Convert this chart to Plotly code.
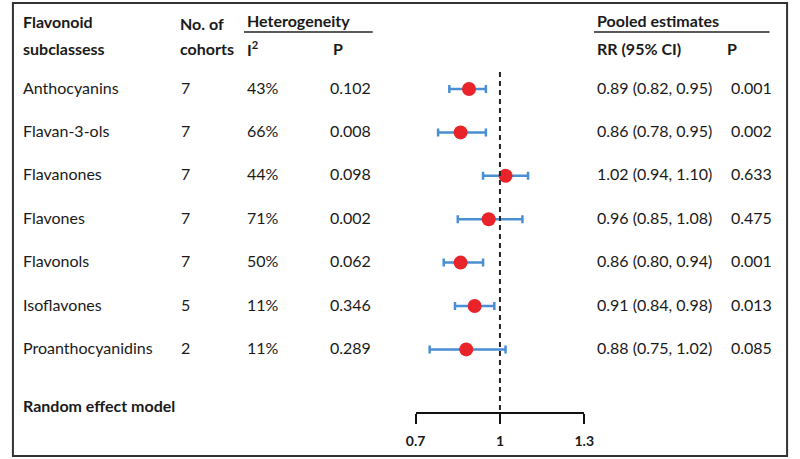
import plotly.graph_objects as go

# ---- data ----
subclasses = ["Anthocyanins", "Flavan-3-ols", "Flavanones", "Flavones",
              "Flavonols", "Isoflavones", "Proanthocyanidins"]
cohorts = [7, 7, 7, 7, 7, 5, 2]
i2 = ["43%", "66%", "44%", "71%", "50%", "11%", "11%"]
p_het = ["0.102", "0.008", "0.098", "0.002", "0.062", "0.346", "0.289"]
rr = [0.89, 0.86, 1.02, 0.96, 0.86, 0.91, 0.88]
rr_lo = [0.82, 0.78, 0.94, 0.85, 0.80, 0.84, 0.75]
rr_hi = [0.95, 0.95, 1.10, 1.08, 0.94, 0.98, 1.02]
p_pool = ["0.001", "0.002", "0.633", "0.475", "0.001", "0.013", "0.085"]
tick_vals = [0.7, 1, 1.3]
tick_text = ["0.7", "1", "1.3"]

W, H = 800, 459
FONT = "Lato"
TXT = "#1a1a1a"

def px(x):
    return x / W

def py(y):
    return 1 - y / H

rows = list(range(len(subclasses)))
ci_text = [f"{r:.2f} ({l:.2f}, {h:.2f})" for r, l, h in zip(rr, rr_lo, rr_hi)]

fig = go.Figure()
fig.add_trace(go.Scatter(
    x=rr, y=rows, mode="markers",
    marker=dict(color="#e8242a", size=14, line=dict(width=0)),
    error_x=dict(type="data", symmetric=False,
                 array=[h - r for r, h in zip(rr, rr_hi)],
                 arrayminus=[r - l for r, l in zip(rr, rr_lo)],
                 color="#4a8fd4", thickness=2.5, width=4),
    showlegend=False, hoverinfo="skip",
))

ann = []

def add_text(x, y, text, bold=False, yref="paper", size=16, yshift=0):
    ann.append(dict(x=x, y=y, xref="paper", yref=yref, text=text,
                    showarrow=False, xanchor="left", yanchor="middle",
                    yshift=yshift,
                    font=dict(family=FONT, size=size, color=TXT,
                              weight="bold" if bold else "normal")))

# headers
add_text(px(11), py(22), "Flavonoid", bold=True)
add_text(px(11), py(49), "subclassess", bold=True)
add_text(px(172), py(23), "No. of", bold=True)
add_text(px(172), py(49), "cohorts", bold=True)
add_text(px(241), py(20), "Heterogeneity", bold=True)
add_text(px(241), py(49), "I<sup>2</sup>", bold=True)
add_text(px(329), py(49), "P", bold=True)
add_text(px(600), py(20), "Pooled estimates", bold=True)
add_text(px(600), py(49), "RR (95% CI)", bold=True)
add_text(px(733), py(49), "P", bold=True)
add_text(px(11), py(405), "Random effect model", bold=True)

# rows
for i in rows:
    add_text(px(11), i, subclasses[i], yref="y", yshift=2)
    add_text(px(173), i, str(cohorts[i]), yref="y", yshift=2)
    add_text(px(241), i, i2[i], yref="y", yshift=2)
    add_text(px(326), i, p_het[i], yref="y", yshift=2)
    add_text(px(600), i, ci_text[i], yref="y", yshift=2)
    add_text(px(737), i, p_pool[i], yref="y", yshift=2)

shapes = [
    # outer frame
    dict(type="rect", xref="paper", yref="paper", x0=px(3), x1=px(797),
         y0=py(456), y1=py(3), line=dict(color="#333333", width=2)),
    # header underlines
    dict(type="line", xref="paper", yref="paper", x0=px(240), x1=px(372),
         y0=py(32), y1=py(32), line=dict(color="#222222", width=1.5)),
    dict(type="line", xref="paper", yref="paper", x0=px(599), x1=px(779),
         y0=py(32), y1=py(32), line=dict(color="#222222", width=1.5)),
    # null line
    dict(type="line", xref="x", yref="y", x0=1, x1=1, y0=-0.39, y1=7.442,
         line=dict(color="#222222", width=2, dash="5px,4px")),
]

fig.update_layout(
    width=W, height=H,
    margin=dict(l=0, r=0, t=0, b=0),
    paper_bgcolor="white", plot_bgcolor="white",
    annotations=ann, shapes=shapes,
    xaxis=dict(domain=[px(416), px(589)], range=[0.7, 1.3],
               showgrid=False, zeroline=False, showline=True,
               linecolor="#111111", linewidth=1.5,
               ticks="outside", ticklen=10, tickwidth=1.5, tickcolor="#111111",
               tickvals=tick_vals, ticktext=tick_text,
               ticklabelstandoff=5,
               tickfont=dict(family=FONT, size=14, color=TXT, weight="bold")),
    yaxis=dict(domain=[(H - 412) / H, 1], range=[7.442, -2.0507],
               visible=False, showgrid=False, zeroline=False),
)

fig.write_html("out.html", config={"displayModeBar": False},
               post_script="document.body.style.margin='0';document.body.style.overflow='hidden';")
